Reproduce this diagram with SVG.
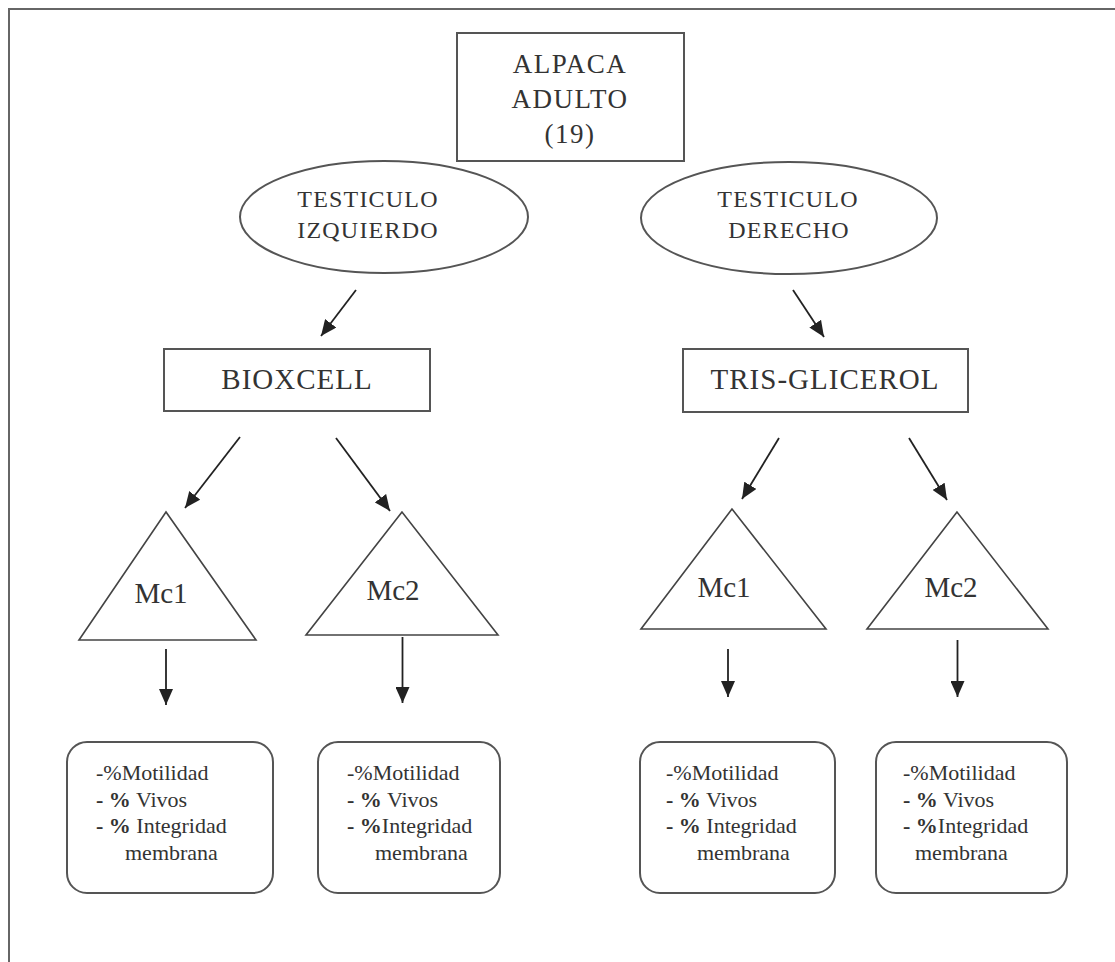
<svg xmlns="http://www.w3.org/2000/svg" width="1115" height="962" viewBox="0 0 1115 962">
<defs>
<style>
.frame{fill:none;stroke:#666;stroke-width:2}
.box{fill:#fff;stroke:#555;stroke-width:2}
.tri{fill:#fff;stroke:#444;stroke-width:1.6}
.conn{stroke:#222;stroke-width:1.8;fill:none;marker-end:url(#ah)}
.t{font-family:"Liberation Serif","Times New Roman",serif;fill:#333}
.big{font-size:27px;letter-spacing:1.5px;text-anchor:middle}
.mid{font-size:29px;letter-spacing:1px;text-anchor:middle}
.ell{font-size:24px;letter-spacing:1.2px;text-anchor:middle}
.mc{font-size:29px;text-anchor:middle}
.sm{font-size:22px}
.b{font-weight:bold}
</style>
<marker id="ah" markerUnits="userSpaceOnUse" markerWidth="16" markerHeight="14" refX="16" refY="7" orient="auto">
<path d="M0,0 L16,7 L0,14 z" fill="#222"/>
</marker>
</defs>
<rect width="1115" height="962" fill="#fff"/>
<path class="frame" d="M9,962 L9,9 L1115,9"/>

<g id="connectors">
<line class="conn" x1="356" y1="290" x2="321" y2="336"/>
<line class="conn" x1="793" y1="290" x2="824" y2="337"/>
<line class="conn" x1="240" y1="437" x2="185" y2="508"/>
<line class="conn" x1="336" y1="438" x2="390" y2="511"/>
<line class="conn" x1="779" y1="438" x2="742" y2="499"/>
<line class="conn" x1="909" y1="438" x2="947" y2="500"/>
<line class="conn" x1="166" y1="649" x2="166" y2="705"/>
<line class="conn" x1="402.5" y1="637" x2="402.5" y2="703"/>
<line class="conn" x1="728" y1="649" x2="728" y2="697"/>
<line class="conn" x1="957.5" y1="640" x2="957.5" y2="697"/>
</g>

<g id="alpaca">
<rect class="box" x="457" y="33" width="227" height="128"/>
<text class="t big" x="570" y="73">ALPACA</text>
<text class="t big" x="570" y="108">ADULTO</text>
<text class="t big" x="570" y="143">(19)</text>
</g>

<g id="testiculo-izq">
<ellipse class="box" cx="384" cy="217" rx="144" ry="56"/>
<text class="t ell" x="368" y="207">TESTICULO</text>
<text class="t ell" x="368" y="238">IZQUIERDO</text>
</g>

<g id="testiculo-der">
<ellipse class="box" cx="789" cy="218" rx="148" ry="56"/>
<text class="t ell" x="788" y="207">TESTICULO</text>
<text class="t ell" x="789" y="238">DERECHO</text>
</g>

<g id="bioxcell">
<rect class="box" x="164" y="349" width="266" height="62"/>
<text class="t mid" x="297" y="389">BIOXCELL</text>
</g>

<g id="tris">
<rect class="box" x="683" y="349" width="285" height="63"/>
<text class="t mid" x="825" y="389">TRIS-GLICEROL</text>
</g>

<g id="mc1-bio">
<polygon class="tri" points="166,512 79,640 256,640"/>
<text class="t mc" x="161" y="603">Mc1</text>
</g>
<g id="mc2-bio">
<polygon class="tri" points="402,512 306,635 498,635"/>
<text class="t mc" x="393" y="600">Mc2</text>
</g>
<g id="mc1-tris">
<polygon class="tri" points="732,509 641,629 826,629"/>
<text class="t mc" x="724" y="597">Mc1</text>
</g>
<g id="mc2-tris">
<polygon class="tri" points="957,512 867,629 1048,629"/>
<text class="t mc" x="951" y="597">Mc2</text>
</g>

<g id="res1">
<rect class="box" x="67" y="742" width="206" height="151" rx="20"/>
<text class="t sm" x="96" y="780">-%Motilidad</text>
<text class="t sm" x="96" y="807"><tspan class="b">- %</tspan> Vivos</text>
<text class="t sm" x="96" y="833"><tspan class="b">- %</tspan> Integridad</text>
<text class="t sm" x="125" y="860">membrana</text>
</g>
<g id="res2">
<rect class="box" x="318" y="742" width="182" height="151" rx="20"/>
<text class="t sm" x="347" y="780">-%Motilidad</text>
<text class="t sm" x="347" y="807"><tspan class="b">- %</tspan> Vivos</text>
<text class="t sm" x="347" y="833"><tspan class="b">- %</tspan>Integridad</text>
<text class="t sm" x="375" y="860">membrana</text>
</g>
<g id="res3">
<rect class="box" x="640" y="742" width="195" height="151" rx="20"/>
<text class="t sm" x="666" y="780">-%Motilidad</text>
<text class="t sm" x="666" y="807"><tspan class="b">- %</tspan> Vivos</text>
<text class="t sm" x="666" y="833"><tspan class="b">- %</tspan> Integridad</text>
<text class="t sm" x="697" y="860">membrana</text>
</g>
<g id="res4">
<rect class="box" x="876" y="742" width="191" height="151" rx="20"/>
<text class="t sm" x="903" y="780">-%Motilidad</text>
<text class="t sm" x="903" y="807"><tspan class="b">- %</tspan> Vivos</text>
<text class="t sm" x="903" y="833"><tspan class="b">- %</tspan>Integridad</text>
<text class="t sm" x="915" y="860">membrana</text>
</g>
</svg>
